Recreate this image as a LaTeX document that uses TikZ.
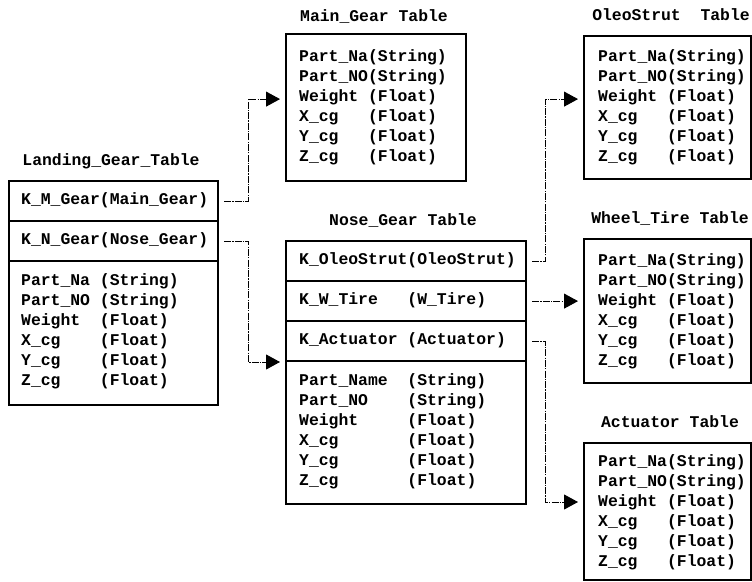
\documentclass[tikz,border=0pt]{standalone}
\usepackage{fontspec}
\setmonofont{Liberation Mono}
\usetikzlibrary{arrows.meta}
\begin{document}
\begin{tikzpicture}[x=1pt,y=-1pt,
  box/.style={draw, line width=2.2pt, rectangle, anchor=north west, inner sep=0pt},
  txt/.style={anchor=west, inner sep=0pt, align=left, font=\ttfamily\bfseries\fontsize{16.4}{20}\selectfont},
  ttl/.style={anchor=center, inner sep=0pt, font=\ttfamily\bfseries\fontsize{16.4}{20}\selectfont},
  link/.style={line width=0.9pt, dash pattern=on 7pt off 1.2pt on 1.2pt off 1.2pt,
    -{Triangle[length=14pt,width=15pt]}, shorten >=5pt},
  ]
\useasboundingbox (0,0) rectangle (752,581);

% Landing_Gear_Table
\node[ttl] (lgT) at (111,161) {Landing\_Gear\_Table};
\node[box, minimum width=209pt, minimum height=40pt] (lgA) at (8,180) {};
\node[box, minimum width=209pt, minimum height=40pt] (lgB) at (8,220) {};
\node[box, minimum width=209pt, minimum height=144pt] (lgC) at (8,260) {};
\node[txt] (lgAt) at (21,200) {K\_M\_Gear(Main\_Gear)};
\node[txt] (lgBt) at (21,240) {K\_N\_Gear(Nose\_Gear)};
\node[txt] (lgCt) at (21,331) {Part\_Na~(String)\\Part\_NO~(String)\\Weight~~(Float)\\X\_cg~~~~(Float)\\Y\_cg~~~~(Float)\\Z\_cg~~~~(Float)};

% Main_Gear Table
\node[ttl] (mgT) at (374,16) {Main\_Gear Table};
\node[box, minimum width=180pt, minimum height=147pt] (mg) at (285,33) {};
\node[txt] (mgt) at (299,107) {Part\_Na(String)\\Part\_NO(String)\\Weight~(Float)\\X\_cg~~~(Float)\\Y\_cg~~~(Float)\\Z\_cg~~~(Float)};

% Nose_Gear Table
\node[ttl] (ngT) at (403,220) {Nose\_Gear Table};
\node[box, minimum width=240pt, minimum height=40pt] (ngA) at (285,240) {};
\node[box, minimum width=240pt, minimum height=40pt] (ngB) at (285,280) {};
\node[box, minimum width=240pt, minimum height=40pt] (ngC) at (285,320) {};
\node[box, minimum width=240pt, minimum height=143pt] (ngD) at (285,360) {};
\node[txt] (ngAt) at (299,260) {K\_OleoStrut(OleoStrut)};
\node[txt] (ngBt) at (299,300) {K\_W\_Tire~~~(W\_Tire)};
\node[txt] (ngCt) at (299,340) {K\_Actuator~(Actuator)};
\node[txt] (ngDt) at (299,431) {Part\_Name~~(String)\\Part\_NO~~~~(String)\\Weight~~~~~(Float)\\X\_cg~~~~~~~(Float)\\Y\_cg~~~~~~~(Float)\\Z\_cg~~~~~~~(Float)};

% OleoStrut Table
\node[ttl] (osT) at (671,15) {OleoStrut~~Table};
\node[box, minimum width=167pt, minimum height=143pt] (os) at (583,35) {};
\node[txt] (ost) at (598,107) {Part\_Na(String)\\Part\_NO(String)\\Weight~(Float)\\X\_cg~~~(Float)\\Y\_cg~~~(Float)\\Z\_cg~~~(Float)};

% Wheel_Tire Table
\node[ttl] (wtT) at (670,218) {Wheel\_Tire Table};
\node[box, minimum width=167pt, minimum height=144pt] (wt) at (583,238) {};
\node[txt] (wtt) at (598,311) {Part\_Na(String)\\Part\_NO(String)\\Weight~(Float)\\X\_cg~~~(Float)\\Y\_cg~~~(Float)\\Z\_cg~~~(Float)};

% Actuator Table
\node[ttl] (acT) at (670,422) {Actuator Table};
\node[box, minimum width=167pt, minimum height=137pt] (ac) at (583,442) {};
\node[txt] (act) at (598,512) {Part\_Na(String)\\Part\_NO(String)\\Weight~(Float)\\X\_cg~~~(Float)\\Y\_cg~~~(Float)\\Z\_cg~~~(Float)};

% connectors
\draw[link] ([xshift=5pt]lgA.east) -- ++(24,0) |- ([yshift=8.5pt]mg.west);
\draw[link] ([xshift=5pt]lgB.east) -- ++(24,0) |- ([yshift=-2pt]ngD.north west);
\draw[link] ([xshift=5pt]ngA.east) -- ++(13,0) |- ([yshift=8.5pt]os.west);
\draw[link] ([xshift=5pt]ngB.east) -- ([yshift=10pt]wt.west);
\draw[link] ([xshift=5pt]ngC.east) -- ++(13,0) |- ([yshift=-60pt]ac.north west);
\end{tikzpicture}
\end{document}
